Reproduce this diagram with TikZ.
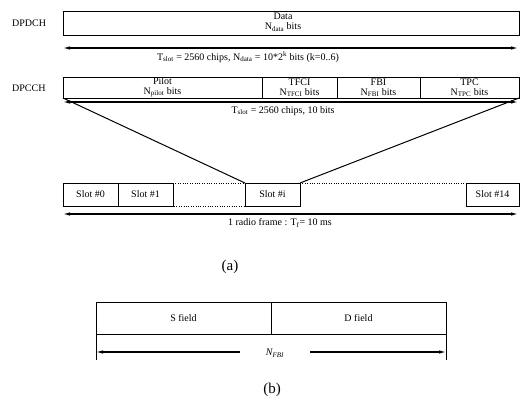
\documentclass[tikz,border=0pt]{standalone}
\usepackage{fontspec}
\setmainfont{Liberation Serif}
\usetikzlibrary{arrows.meta}
\begin{document}
\begin{tikzpicture}[x=1pt,y=-1pt,
  lbl/.style={font=\fontsize{10}{10}\selectfont, inner sep=0pt},
  fld/.style={draw, line width=1pt, inner sep=0pt, outer sep=0pt, anchor=north west, align=center, font=\fontsize{10}{10}\selectfont},
  dim/.style={{Latex[length=7pt,width=3.5pt]}-{Latex[length=7pt,width=3.5pt]}, line width=1.1pt},
  figcap/.style={font=\fontsize{15}{16}\selectfont, inner sep=0pt}]
\useasboundingbox (0,0) rectangle (520,405);
% DPDCH
\node[lbl, anchor=west] (dpdchl) at (12,23) {DPDCH};
\node[fld, minimum width=456, minimum height=24] (data) at (63,11) {};
\node[lbl] (datat) at (283,16) {Data};
\node[lbl] (datan) at (283,27) {N\textsubscript{data} bits};
\coordinate (a1) at (63,48);
\coordinate (a2) at (518,48);
\draw[dim] (a1) -- (a2);
\node[lbl] (dpdcht) at (248,57) {T\textsubscript{slot} = 2560 chips, N\textsubscript{data} = 10*2\textsuperscript{k} bits (k=0..6)};
% DPCCH
\node[lbl, anchor=west] (dpcchl) at (12,88) {DPCCH};
\node[fld, minimum width=199, minimum height=21, anchor=north west] (pilot) at (63,77) {};
\node[fld, minimum width=75, minimum height=21] (tfci) at (262,77) {};
\node[fld, minimum width=83, minimum height=21] (fbi) at (337,77) {};
\node[fld, minimum width=99, minimum height=21] (tpc) at (420,77) {};
\node[lbl, align=center] (pilott) at (pilot.center) {Pilot\\[0pt]N\textsubscript{pilot} bits};
\node[lbl, align=center] (tfcit) at (tfci.center) {TFCI\\[0pt]N\textsubscript{TFCI} bits};
\node[lbl, align=center] (fbit) at (fbi.center) {FBI\\[0pt]N\textsubscript{FBI} bits};
\node[lbl, align=center] (tpct) at (tpc.center) {TPC\\[0pt]N\textsubscript{TPC} bits};
\coordinate (b1) at (63,102);
\coordinate (b2) at (518,102);
\draw[dim] (b1) -- (b2);
\node[lbl] (dpccht) at (283,111) {T\textsubscript{slot} = 2560 chips, 10 bits};
% slots
\node[fld, minimum width=55, minimum height=23] (s0) at (63,183) {Slot \#0};
\node[fld, minimum width=55, minimum height=23] (s1) at (118,183) {Slot \#1};
\node[fld, minimum width=55, minimum height=23] (si) at (245,183) {Slot \#i};
\node[fld, minimum width=53, minimum height=23] (s14) at (466,183) {Slot \#14};
\draw[line width=1pt] (pilot.south west) -- (si.north west);
\draw[line width=1pt] (tpc.south east) -- (si.north east);
\draw[dotted] (s1.north east) -- (si.north west);
\draw[dotted] (si.north east) -- (s14.north west);
\coordinate (d1) at (150,206);
\coordinate (d2) at (255,206);
\draw[dotted] (d1) -- (d2);
\coordinate (c1) at (63,214);
\coordinate (c2) at (518,214);
\draw[dim] (c1) -- (c2);
\node[lbl] (framet) at (280,223) {1 radio frame : T\textsubscript{f}= 10 ms};
\node[figcap] (capa) at (230,267) {(a)};
% (b)
\node[fld, minimum width=175, minimum height=32] (sf) at (96,302) {S field};
\node[fld, minimum width=175, minimum height=32] (df) at (271,302) {D field};
\coordinate (e1) at (96,360);
\coordinate (e2) at (446,360);
\draw[line width=1pt] (sf.south west) -- (e1);
\draw[line width=1pt] (df.south east) -- (e2);
\coordinate (f1) at (96,352);
\coordinate (f2) at (446,352);
\draw[dim] (f1) -- (f2);
\node[lbl, fill=white, minimum width=70, minimum height=10] (nfbi) at (275,353) {\textit{N\textsubscript{FBI}}};
\node[figcap] (capb) at (272,390) {(b)};
\end{tikzpicture}
\end{document}
